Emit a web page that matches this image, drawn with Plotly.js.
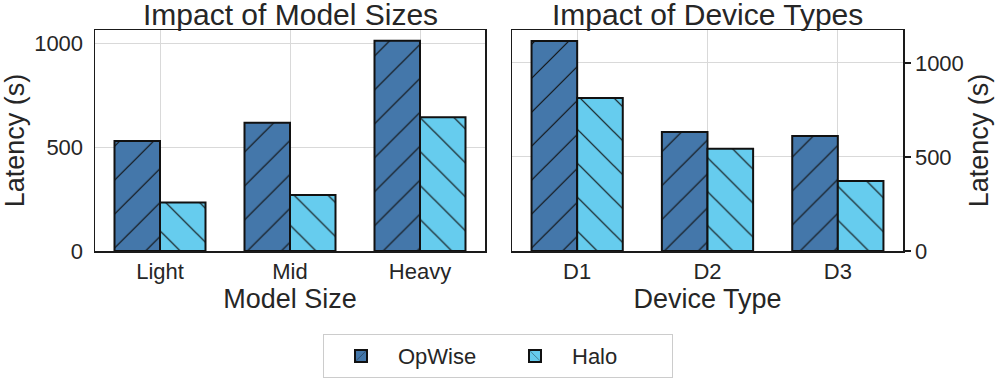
<!DOCTYPE html>
<html>
<head>
<meta charset="utf-8">
<script src="https://cdn.plot.ly/plotly-3.0.1.min.js"></script>
<style>html,body{margin:0;padding:0;background:#fff;}#chart{width:997px;height:380px;}</style>
</head>
<body>
<div id="chart"></div>
<script>
const modelSizes = ["Light", "Mid", "Heavy"];
const modelOpWise = [530, 618, 1012];
const modelHalo = [234, 270, 644];

const deviceTypes = ["D1", "D2", "D3"];
const deviceOpWise = [1117, 633, 612];
const deviceHalo = [814, 544, 372];

const seriesNames = ["OpWise", "Halo"];
const titles = ["Impact of Model Sizes", "Impact of Device Types"];
const xTitles = ["Model Size", "Device Type"];
const yTitle = "Latency (s)";

const colOp = "#4477AA", colHalo = "#66CCEE";
const FONT = "Liberation Sans, Arial, sans-serif";
const TXT = "#262626";

function bar(x, y, name, color, shape, xa, ya, show) {
  return {
    type: "bar", x: x, y: y, name: name, xaxis: xa, yaxis: ya,
    showlegend: show, legendgroup: name,
    marker: {
      color: color,
      line: {color: "#111", width: 2},
      pattern: {shape: shape, fgcolor: "#111", bgcolor: color, fgopacity: 1, size: 24, solidity: 0.05, fillmode: "replace"}
    },
    hoverinfo: "x+y"
  };
}

const data = [
  bar(modelSizes, modelOpWise, seriesNames[0], colOp, "/", "x", "y", true),
  bar(modelSizes, modelHalo, seriesNames[1], colHalo, "\\", "x", "y", true),
  bar(deviceTypes, deviceOpWise, seriesNames[0], colOp, "/", "x2", "y2", false),
  bar(deviceTypes, deviceHalo, seriesNames[1], colHalo, "\\", "x2", "y2", false)
];

const yTop = 1 - 30/380, yBot = 1 - 251/380;
const axBase = {
  showline: true, mirror: true, linecolor: "#1a1a1a", linewidth: 1.5,
  showgrid: true, gridcolor: "#d9d9d9", gridwidth: 1, zeroline: false,
  tickfont: {family: FONT, size: 22, color: TXT}
};

const layout = {
  width: 997, height: 380,
  margin: {l: 0, r: 0, t: 0, b: 0},
  paper_bgcolor: "#fff", plot_bgcolor: "#fff",
  font: {family: FONT, color: TXT},
  barmode: "group", bargap: 0.3, bargroupgap: 0,
  xaxis: Object.assign({}, axBase, {domain: [95/997, 485/997], anchor: "y", range: [-0.5, 2.5], ticks: "",
    title: {text: xTitles[0], font: {family: FONT, size: 27, color: TXT}, standoff: 1}}),
  yaxis: Object.assign({}, axBase, {domain: [yBot, yTop], anchor: "x", range: [0, 1064], ticks: "", tickvals: [0, 500, 1000],
    ticklabelstandoff: 6,
    title: {text: yTitle, font: {family: FONT, size: 27, color: TXT}, standoff: 6}}),
  xaxis2: Object.assign({}, axBase, {domain: [512/997, 903/997], anchor: "y2", range: [-0.5, 2.5], ticks: "",
    title: {text: xTitles[1], font: {family: FONT, size: 27, color: TXT}, standoff: 1}}),
  yaxis2: Object.assign({}, axBase, {domain: [yBot, yTop], anchor: "x2", side: "right", range: [0, 1175], tickvals: [0, 500, 1000],
    ticks: "outside", ticklen: 6, tickwidth: 1.5, tickcolor: "#1a1a1a", ticklabelstandoff: 0,
    title: {text: yTitle, font: {family: FONT, size: 27, color: TXT}, standoff: 6}}),
  annotations: [
    {text: titles[0], xref: "paper", yref: "paper", x: 290/997, y: yTop, yanchor: "bottom", xanchor: "center", showarrow: false,
     font: {family: FONT, size: 30, color: TXT}, yshift: -3},
    {text: titles[1], xref: "paper", yref: "paper", x: 707/997, y: yTop, yanchor: "bottom", xanchor: "center", showarrow: false,
     font: {family: FONT, size: 30, color: TXT}, yshift: -3}
  ],
  legend: {orientation: "h", x: 498/997, xanchor: "center", y: 0.005, yanchor: "bottom",
    bordercolor: "#cccccc", borderwidth: 1, bgcolor: "#fff",
    font: {family: FONT, size: 22, color: TXT}, itemwidth: 64, entrywidth: 95, traceorder: "normal"}
};

Plotly.newPlot("chart", data, layout, {displayModeBar: false, staticPlot: true});
</script>
</body>
</html>
